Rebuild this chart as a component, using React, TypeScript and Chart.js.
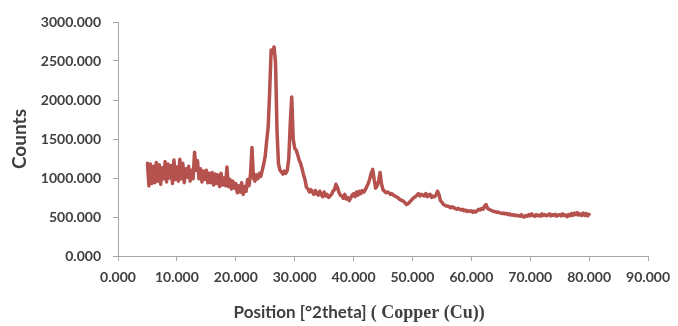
import React, { useEffect, useRef } from "react";
import { Chart, registerables } from "chart.js";

Chart.register(...registerables);

const angles: number[] = [
  5.0, 5.25, 5.5, 5.75, 6.0, 6.25, 6.5, 6.75, 7.0, 7.25, 7.5, 7.75, 8.0, 8.25, 8.5, 8.75, 9.0, 9.25, 9.5, 9.75,
  10.0, 10.25, 10.5, 10.75, 11.0, 11.25, 11.5, 11.75, 12.0, 12.25, 12.5, 12.75, 13.0, 13.25, 13.5, 13.75, 14.0, 14.25, 14.5, 14.75,
  15.0, 15.25, 15.5, 15.75, 16.0, 16.25, 16.5, 16.75, 17.0, 17.25, 17.5, 17.75, 18.0, 18.25, 18.5, 18.75, 19.0, 19.25, 19.5, 19.75,
  20.0, 20.25, 20.5, 20.75, 21.0, 21.25, 21.5, 21.75, 22.0, 22.25, 22.5, 22.75, 23.0, 23.25, 23.5, 23.75, 24.0, 24.25, 24.5, 24.75,
  25.0, 25.25, 25.5, 25.75, 26.0, 26.25, 26.5, 26.75, 27.0, 27.25, 27.5, 27.75, 28.0, 28.25, 28.5, 28.75, 29.0, 29.25, 29.5, 29.75,
  30.0, 30.25, 30.5, 30.75, 31.0, 31.25, 31.5, 31.75, 32.0, 32.25, 32.5, 32.75, 33.0, 33.25, 33.5, 33.75, 34.0, 34.25, 34.5, 34.75,
  35.0, 35.25, 35.5, 35.75, 36.0, 36.25, 36.5, 36.75, 37.0, 37.25, 37.5, 37.75, 38.0, 38.25, 38.5, 38.75, 39.0, 39.25, 39.5, 39.75,
  40.0, 40.25, 40.5, 40.75, 41.0, 41.25, 41.5, 41.75, 42.0, 42.25, 42.5, 42.75, 43.0, 43.25, 43.5, 43.75, 44.0, 44.25, 44.5, 44.75,
  45.0, 45.25, 45.5, 45.75, 46.0, 46.25, 46.5, 46.75, 47.0, 47.25, 47.5, 47.75, 48.0, 48.25, 48.5, 48.75, 49.0, 49.25, 49.5, 49.75,
  50.0, 50.25, 50.5, 50.75, 51.0, 51.25, 51.5, 51.75, 52.0, 52.25, 52.5, 52.75, 53.0, 53.25, 53.5, 53.75, 54.0, 54.25, 54.5, 54.75,
  55.0, 55.25, 55.5, 55.75, 56.0, 56.25, 56.5, 56.75, 57.0, 57.25, 57.5, 57.75, 58.0, 58.25, 58.5, 58.75, 59.0, 59.25, 59.5, 59.75,
  60.0, 60.25, 60.5, 60.75, 61.0, 61.25, 61.5, 61.75, 62.0, 62.25, 62.5, 62.75, 63.0, 63.25, 63.5, 63.75, 64.0, 64.25, 64.5, 64.75,
  65.0, 65.25, 65.5, 65.75, 66.0, 66.25, 66.5, 66.75, 67.0, 67.25, 67.5, 67.75, 68.0, 68.25, 68.5, 68.75, 69.0, 69.25, 69.5, 69.75,
  70.0, 70.25, 70.5, 70.75, 71.0, 71.25, 71.5, 71.75, 72.0, 72.25, 72.5, 72.75, 73.0, 73.25, 73.5, 73.75, 74.0, 74.25, 74.5, 74.75,
  75.0, 75.25, 75.5, 75.75, 76.0, 76.25, 76.5, 76.75, 77.0, 77.25, 77.5, 77.75, 78.0, 78.25, 78.5, 78.75, 79.0, 79.25, 79.5, 79.75,
  80.0,
];

const counts: number[] = [
  1190, 900, 1180, 930, 1150, 940, 1200, 960, 1170, 920, 1130, 990, 1210, 950, 1180, 1000, 1160, 930, 1230, 980,
  1140, 960, 1240, 990, 1190, 940, 1120, 1010, 1150, 960, 1100, 990, 1330, 1100, 1220, 990, 1120, 950, 1090, 980,
  1100, 940, 1060, 940, 1070, 910, 1050, 930, 1040, 890, 1060, 910, 1000, 900, 1140, 890, 980, 860, 960, 870,
  930, 810, 900, 820, 940, 790, 890, 830, 980, 900, 1050, 1390, 1000, 960, 1040, 990, 1060, 1020, 1100, 1180,
  1280, 1480, 1650, 2100, 2640, 2600, 2680, 2480, 1600, 1180, 1100, 1080, 1050, 1090, 1060, 1100, 1250, 1700, 2040, 1500,
  1380, 1360, 1300, 1230, 1190, 1120, 1040, 980, 880, 860, 820, 850, 820, 790, 840, 800, 780, 830, 790, 760,
  820, 770, 790, 750, 770, 790, 830, 850, 920, 880, 820, 780, 770, 740, 790, 730, 750, 710, 740, 780,
  800, 760, 820, 780, 830, 800, 840, 820, 850, 890, 930, 990, 1060, 1110, 980, 870, 900, 960, 1070, 920,
  850, 830, 810, 820, 810, 790, 800, 780, 770, 760, 750, 730, 720, 710, 700, 680, 660, 670, 690, 710,
  730, 750, 760, 780, 800, 770, 790, 780, 770, 800, 760, 780, 790, 750, 770, 760, 780, 830, 790, 710,
  690, 660, 650, 640, 640, 630, 620, 630, 620, 610, 600, 610, 600, 590, 600, 580, 590, 570, 580, 570,
  580, 560, 575, 565, 580, 600, 590, 610, 600, 640, 660, 610, 600, 590, 580, 570, 570, 560, 565, 555,
  550, 545, 550, 540, 545, 530, 540, 525, 530, 520, 525, 515, 520, 510, 530, 505, 500, 520, 510, 530,
  515, 540, 520, 510, 530, 515, 525, 510, 540, 520, 530, 515, 525, 540, 515, 530, 520, 535, 510, 525,
  530, 515, 540, 520, 525, 505, 530, 515, 545, 520, 550, 530, 555, 525, 540, 520, 550, 520, 545, 515,
  535,
];

const yTitle = "Counts";
const xTitleSans = "Position [°2theta] ";
const xTitleSerif = "( Copper (Cu))";

const lineColor = "#b5524e";
const textColor = "#404040";
const axisColor = "#a6a6a6";

const xTitlePlugin = {
  id: "xTitleMixed",
  afterDraw(chart: any) {
    const ctx = chart.ctx as CanvasRenderingContext2D;
    ctx.save();
    ctx.fillStyle = textColor;
    ctx.textBaseline = "alphabetic";
    ctx.textAlign = "left";
    const sansFont = "bold 17px Lato, 'Open Sans', sans-serif";
    const serifFont = "bold 18px 'Liberation Serif', 'DejaVu Serif', serif";
    ctx.font = sansFont;
    const w1 = ctx.measureText(xTitleSans).width;
    ctx.font = serifFont;
    const w2 = ctx.measureText(xTitleSerif).width;
    const total = w1 + w2;
    const cx = chart.chartArea.left + (chart.chartArea.right - chart.chartArea.left) * 0.455;
    const startX = cx - total / 2;
    const baseY = chart.height - 8;
    ctx.font = sansFont;
    ctx.fillText(xTitleSans, startX, baseY);
    ctx.font = serifFont;
    ctx.fillText(xTitleSerif, startX + w1, baseY);
    ctx.restore();
  },
};

export default function App() {
  const canvasRef = useRef<HTMLCanvasElement | null>(null);

  useEffect(() => {
    if (!canvasRef.current) return;
    const points = angles.map((a, i) => ({ x: a, y: counts[i] }));
    const tickFont = { family: "Lato, 'Open Sans', sans-serif", size: 14, weight: "bold" as const };
    const chart = new Chart(canvasRef.current, {
      type: "line",
      data: {
        datasets: [
          {
            data: points,
            borderColor: lineColor,
            backgroundColor: lineColor,
            borderWidth: 3.5,
            borderJoinStyle: "round",
            borderCapStyle: "round",
            pointRadius: 0,
            tension: 0,
            fill: false,
          },
        ],
      },
      options: {
        animation: false,
        responsive: false,
        layout: { padding: { left: 0, top: 22, right: 26, bottom: 0 } },
        plugins: { legend: { display: false }, tooltip: { enabled: false } },
        scales: {
          x: {
            type: "linear",
            min: 0,
            max: 90,
            ticks: {
              stepSize: 10,
              color: textColor,
              font: tickFont,
              padding: 8,
              maxRotation: 0,
              callback: (v: any) => Number(v).toFixed(3),
            },
            grid: { display: true, drawOnChartArea: false, drawTicks: true, tickLength: 5, color: axisColor },
            border: { display: true, color: axisColor, width: 1 },
            afterFit: (scale: any) => {
              scale.height = 70;
            },
          },
          y: {
            type: "linear",
            min: 0,
            max: 3000,
            ticks: {
              stepSize: 500,
              color: textColor,
              font: tickFont,
              padding: 12,
              callback: (v: any) => Number(v).toFixed(3),
            },
            title: {
              display: true,
              text: yTitle,
              color: textColor,
              font: { family: "Lato, 'Open Sans', sans-serif", size: 19, weight: "bold" },
              padding: { top: 8, bottom: 0 },
            },
            grid: { display: true, drawOnChartArea: false, drawTicks: true, tickLength: 5, color: axisColor },
            border: { display: true, color: axisColor, width: 1 },
            afterFit: (scale: any) => {
              scale.width = 118;
            },
          },
        },
      },
      plugins: [xTitlePlugin],
    });
    return () => chart.destroy();
  }, []);

  return (
    <div style={{ position: "fixed", left: 0, top: 0, width: 678, height: 326, background: "#ffffff" }}>
      <canvas ref={canvasRef} width={678} height={326} style={{ width: 678, height: 326 }} />
    </div>
  );
}
